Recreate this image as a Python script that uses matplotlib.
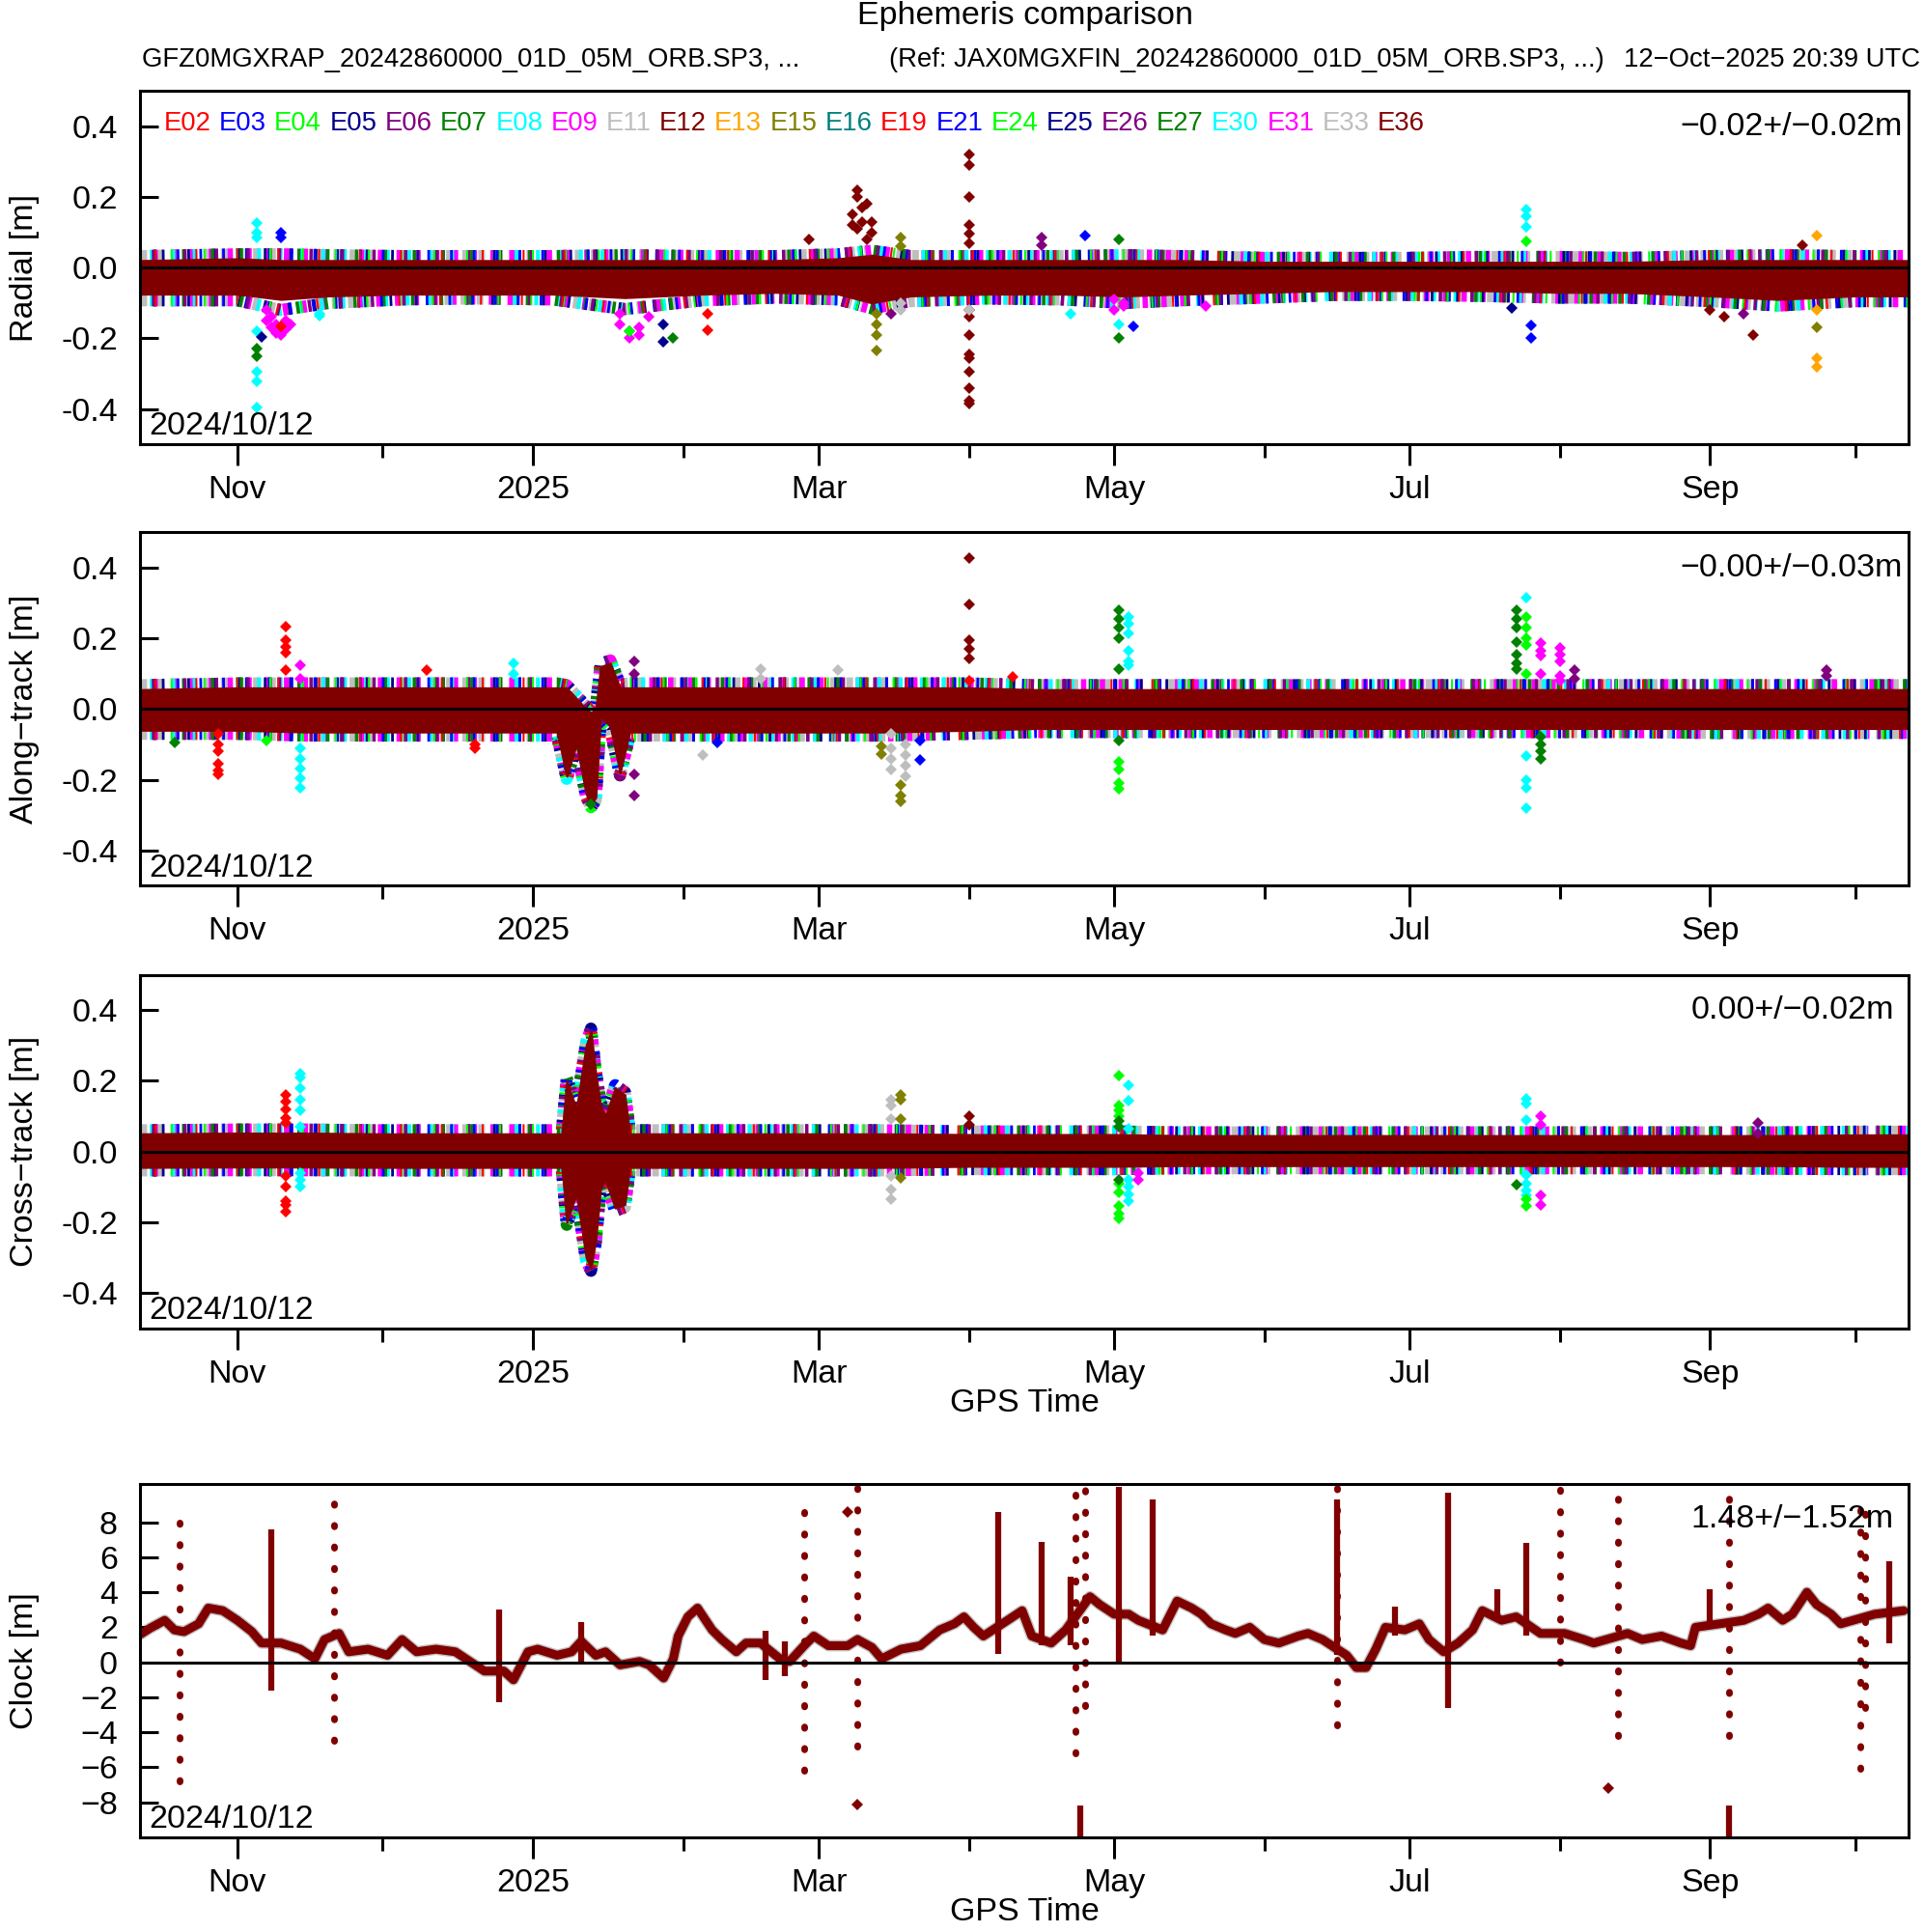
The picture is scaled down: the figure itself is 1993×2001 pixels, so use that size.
import matplotlib
matplotlib.use("Agg")
import matplotlib.pyplot as plt
import matplotlib.dates as mdates
import matplotlib.ticker as mticker
from matplotlib.offsetbox import TextArea, HPacker, AnchoredOffsetbox
import numpy as np
import pandas as pd

plt.rcParams['font.family'] = ['Liberation Sans', 'DejaVu Sans']
plt.rcParams['lines.scale_dashes'] = False

# satellites and their colours (R palette, cycled)
sats = ['E02', 'E03', 'E04', 'E05', 'E06', 'E07', 'E08', 'E09', 'E11', 'E12', 'E13', 'E15',
        'E16', 'E19', 'E21', 'E24', 'E25', 'E26', 'E27', 'E30', 'E31', 'E33', 'E36']
palette = ['#FF0000', '#0000FF', '#00FF00', '#00008B', '#800080', '#008000', '#00FFFF',
           '#FF00FF', '#BEBEBE', '#800000', '#FFA500', '#808000', '#008080']
MAROON = '#800000'
# fringe of the dense band: colour, dash on, dash off, dash offset (points)
fringe_styles = [('#BEBEBE', 5, 7, 0), ('#FF00FF', 4, 10, 5), ('#00FFFF', 3, 13, 9),
                 ('#00008B', 2, 17, 3), ('#008000', 2.5, 19, 12), ('#0000FF', 2, 15, 7),
                 ('#800080', 2.5, 21, 15), ('#00FF00', 1.5, 23, 2), ('#FF0000', 1.5, 29, 20)]

# ---- radial: dense band (core + coloured fringe) ----
rad_dates = ['2024-10-12', '2024-11-01', '2024-11-10', '2024-11-20', '2024-12-05', '2024-12-20',
             '2025-01-05', '2025-01-20', '2025-02-05', '2025-02-20', '2025-03-05', '2025-03-12',
             '2025-03-20', '2025-04-05', '2025-04-20', '2025-05-03', '2025-05-15', '2025-06-01',
             '2025-06-15', '2025-07-01', '2025-07-15', '2025-08-01', '2025-08-15', '2025-09-01',
             '2025-09-15', '2025-10-01', '2025-10-12']
rad_core_hi = [0.02, 0.025, 0.02, 0.02, 0.02, 0.02, 0.02, 0.02, 0.02, 0.02, 0.025, 0.035, 0.02, 0.02,
               0.02, 0.02, 0.02, 0.015, 0.015, 0.015, 0.015, 0.015, 0.015, 0.02, 0.02, 0.02, 0.02]
rad_core_lo = [-0.075, -0.075, -0.09, -0.08, -0.075, -0.075, -0.075, -0.085, -0.075, -0.07, -0.075,
               -0.1, -0.08, -0.075, -0.075, -0.08, -0.075, -0.07, -0.065, -0.065, -0.065, -0.07,
               -0.07, -0.08, -0.09, -0.08, -0.08]
rad_edge_hi = [0.045, 0.05, 0.055, 0.05, 0.045, 0.045, 0.045, 0.05, 0.045, 0.045, 0.05, 0.06, 0.045,
               0.045, 0.045, 0.05, 0.045, 0.04, 0.04, 0.04, 0.045, 0.045, 0.04, 0.045, 0.05, 0.045, 0.045]
rad_edge_lo = [-0.11, -0.11, -0.15, -0.12, -0.105, -0.1, -0.105, -0.15, -0.11, -0.1, -0.105, -0.13,
               -0.11, -0.1, -0.105, -0.12, -0.11, -0.1, -0.09, -0.09, -0.095, -0.1, -0.1, -0.11,
               -0.125, -0.11, -0.11]
# isolated points: (date, satellite, values)
rad_spikes = [
    ('2024-11-05', 'E08', [0.127, 0.10, 0.085, -0.18, -0.295, -0.323, -0.396]),
    ('2024-11-05', 'E07', [-0.23, -0.25]),
    ('2024-11-06', 'E05', [-0.195]),
    ('2024-11-10', 'E03', [0.10, 0.086]),
    ('2024-11-07', 'E09', [-0.12, -0.15]),
    ('2024-11-08', 'E09', [-0.17, -0.14]),
    ('2024-11-09', 'E09', [-0.185, -0.16]),
    ('2024-11-10', 'E09', [-0.19, -0.17]),
    ('2024-11-11', 'E09', [-0.175, -0.15]),
    ('2024-11-12', 'E09', [-0.16]),
    ('2024-11-10', 'E02', [-0.165]),
    ('2024-11-18', 'E08', [-0.13, -0.135]),
    ('2025-01-19', 'E09', [-0.13, -0.16]),
    ('2025-01-21', 'E09', [-0.18, -0.2]),
    ('2025-01-23', 'E09', [-0.17, -0.19]),
    ('2025-01-25', 'E09', [-0.14]),
    ('2025-01-21', 'E04', [-0.18]),
    ('2025-01-28', 'E05', [-0.21, -0.16]),
    ('2025-01-30', 'E07', [-0.2]),
    ('2025-02-06', 'E02', [-0.177, -0.13]),
    ('2025-02-27', 'E12', [0.08]),
    ('2025-03-08', 'E36', [0.12, 0.15]),
    ('2025-03-09', 'E36', [0.22, 0.2, 0.11]),
    ('2025-03-10', 'E36', [0.17, 0.13]),
    ('2025-03-11', 'E36', [0.18, 0.08]),
    ('2025-03-12', 'E36', [0.13, 0.1]),
    ('2025-03-13', 'E15', [-0.13, -0.16, -0.19, -0.235]),
    ('2025-03-18', 'E15', [0.086, 0.06]),
    ('2025-03-18', 'E11', [-0.1, -0.12]),
    ('2025-03-16', 'E06', [-0.13]),
    ('2025-04-01', 'E36', [0.32, 0.29, 0.2, 0.12, 0.095, 0.07, -0.12, -0.14, -0.19, -0.245,
                           -0.255, -0.295, -0.34, -0.377, -0.386]),
    ('2025-04-01', 'E11', [-0.12]),
    ('2025-04-16', 'E06', [0.086, 0.064]),
    ('2025-04-25', 'E03', [0.09]),
    ('2025-05-02', 'E07', [0.08, -0.2]),
    ('2025-05-01', 'E09', [-0.09, -0.12]),
    ('2025-05-03', 'E09', [-0.1, -0.11]),
    ('2025-05-02', 'E08', [-0.16]),
    ('2025-05-05', 'E03', [-0.165]),
    ('2025-04-22', 'E08', [-0.13]),
    ('2025-05-20', 'E09', [-0.11]),
    ('2025-07-25', 'E08', [0.164, 0.145, 0.114]),
    ('2025-07-25', 'E04', [0.073]),
    ('2025-07-26', 'E03', [-0.164, -0.2]),
    ('2025-07-22', 'E05', [-0.114]),
    ('2025-09-01', 'E36', [-0.12]),
    ('2025-09-04', 'E36', [-0.14]),
    ('2025-09-10', 'E36', [-0.19]),
    ('2025-09-08', 'E06', [-0.13]),
    ('2025-09-23', 'E13', [0.09, -0.12, -0.255, -0.28]),
    ('2025-09-23', 'E15', [-0.17]),
    ('2025-09-20', 'E36', [0.064]),
]

# ---- along-track ----
along_dates = ['2024-10-12', '2024-11-01', '2024-11-15', '2024-12-01', '2024-12-15', '2025-01-01',
               '2025-01-06', '2025-01-08', '2025-01-10', '2025-01-12', '2025-01-13', '2025-01-14',
               '2025-01-15', '2025-01-17', '2025-01-19', '2025-01-21', '2025-02-01', '2025-02-15',
               '2025-03-01', '2025-03-15', '2025-04-01', '2025-04-15', '2025-05-01', '2025-05-15',
               '2025-06-01', '2025-06-15', '2025-07-01', '2025-07-15', '2025-08-01', '2025-08-15',
               '2025-09-01', '2025-09-15', '2025-10-01', '2025-10-12']
along_core_hi = [0.055, 0.06, 0.06, 0.06, 0.06, 0.06, 0.06, 0.06, 0.03, 0.0, -0.01, 0.0, 0.12, 0.13,
                 0.06, 0.06, 0.06, 0.06, 0.06, 0.06, 0.06, 0.055, 0.055, 0.055, 0.055, 0.055, 0.055,
                 0.055, 0.055, 0.055, 0.055, 0.055, 0.055, 0.055]
along_core_lo = [-0.06, -0.06, -0.065, -0.065, -0.065, -0.065, -0.065, -0.19, -0.1, -0.24, -0.27,
                 -0.25, -0.02, -0.05, -0.18, -0.065, -0.065, -0.065, -0.065, -0.065, -0.06, -0.055,
                 -0.055, -0.055, -0.055, -0.055, -0.055, -0.055, -0.055, -0.055, -0.055, -0.055,
                 -0.055, -0.055]
along_edge_hi = [0.08, 0.085, 0.085, 0.085, 0.085, 0.085, 0.085, 0.075, 0.045, 0.015, 0.005, 0.015,
                 0.135, 0.145, 0.08, 0.085, 0.085, 0.085, 0.085, 0.085, 0.085, 0.08, 0.08, 0.08, 0.08,
                 0.08, 0.08, 0.08, 0.08, 0.08, 0.08, 0.08, 0.08, 0.08]
along_edge_lo = [-0.08, -0.08, -0.085, -0.085, -0.085, -0.085, -0.085, -0.205, -0.115, -0.255,
                 -0.285, -0.265, -0.035, -0.065, -0.195, -0.085, -0.085, -0.085, -0.085, -0.085,
                 -0.08, -0.075, -0.075, -0.075, -0.075, -0.075, -0.075, -0.075, -0.075, -0.075,
                 -0.08, -0.08, -0.08, -0.08]
along_spikes = [
    ('2024-10-28', 'E02', [-0.07, -0.1, -0.12, -0.155, -0.175, -0.185]),
    ('2024-11-11', 'E02', [0.232, 0.195, 0.177, 0.16, 0.11]),
    ('2024-11-14', 'E09', [0.123, 0.086]),
    ('2024-11-14', 'E08', [-0.11, -0.14, -0.168, -0.195, -0.223]),
    ('2024-11-07', 'E04', [-0.09]),
    ('2024-10-19', 'E07', [-0.095]),
    ('2024-12-10', 'E02', [0.11]),
    ('2024-12-28', 'E08', [0.13, 0.1]),
    ('2024-12-20', 'E02', [-0.11, -0.1]),
    ('2025-01-13', 'E07', [-0.27]),
    ('2025-01-22', 'E06', [0.135, 0.1, -0.186, -0.245]),
    ('2025-02-05', 'E11', [-0.13]),
    ('2025-02-08', 'E03', [-0.095]),
    ('2025-02-17', 'E11', [0.114, 0.086]),
    ('2025-03-05', 'E11', [0.11]),
    ('2025-03-14', 'E15', [-0.105, -0.127]),
    ('2025-03-16', 'E11', [-0.07, -0.11, -0.14, -0.17]),
    ('2025-03-19', 'E11', [-0.1, -0.13, -0.16, -0.19]),
    ('2025-03-18', 'E15', [-0.214, -0.245, -0.26]),
    ('2025-03-22', 'E03', [-0.09, -0.145]),
    ('2025-04-01', 'E36', [0.427, 0.297, 0.195, 0.17, 0.144]),
    ('2025-04-01', 'E02', [0.08]),
    ('2025-04-10', 'E02', [0.09]),
    ('2025-05-02', 'E07', [0.28, 0.255, 0.23, 0.2, 0.112, -0.09]),
    ('2025-05-02', 'E04', [-0.15, -0.17, -0.21, -0.227]),
    ('2025-05-04', 'E08', [0.26, 0.24, 0.214, 0.164, 0.136, 0.123]),
    ('2025-07-23', 'E07', [0.28, 0.255, 0.23, 0.19, 0.155, 0.13, 0.113]),
    ('2025-07-25', 'E04', [0.26, 0.23, 0.2, 0.18, 0.1]),
    ('2025-07-25', 'E08', [0.316, -0.132, -0.2, -0.223, -0.28]),
    ('2025-07-28', 'E09', [0.186, 0.165, 0.15, 0.1]),
    ('2025-07-28', 'E07', [-0.077, -0.1, -0.12, -0.14]),
    ('2025-08-01', 'E09', [0.173, 0.155, 0.136, 0.095, 0.08]),
    ('2025-08-04', 'E06', [0.11, 0.085]),
    ('2025-09-25', 'E06', [0.11, 0.095]),
]

# ---- cross-track ----
cross_dates = ['2024-10-12', '2024-11-01', '2024-11-15', '2024-12-01', '2024-12-15', '2025-01-01',
               '2025-01-07', '2025-01-08', '2025-01-10', '2025-01-12', '2025-01-13', '2025-01-14',
               '2025-01-15', '2025-01-16', '2025-01-18', '2025-01-20', '2025-01-21', '2025-02-01',
               '2025-02-15', '2025-03-01', '2025-03-15', '2025-04-01', '2025-04-15', '2025-05-01',
               '2025-05-15', '2025-06-01', '2025-06-15', '2025-07-01', '2025-07-15', '2025-08-01',
               '2025-08-15', '2025-09-01', '2025-09-15', '2025-10-01', '2025-10-12']
cross_core_hi = [0.05, 0.052, 0.052, 0.05, 0.05, 0.05, 0.05, 0.2, 0.12, 0.3, 0.34, 0.22, 0.13, 0.1,
                 0.18, 0.16, 0.05, 0.05, 0.05, 0.05, 0.05, 0.048, 0.048, 0.048, 0.045, 0.045, 0.045,
                 0.045, 0.045, 0.045, 0.045, 0.045, 0.045, 0.047, 0.047]
cross_core_lo = [-0.045, -0.044, -0.044, -0.045, -0.045, -0.045, -0.045, -0.2, -0.12, -0.3, -0.33,
                 -0.25, -0.1, -0.08, -0.16, -0.15, -0.045, -0.045, -0.045, -0.045, -0.045, -0.042,
                 -0.042, -0.042, -0.04, -0.04, -0.04, -0.04, -0.04, -0.04, -0.04, -0.04, -0.04,
                 -0.042, -0.042]
cross_edge_hi = [0.07, 0.072, 0.072, 0.07, 0.07, 0.07, 0.07, 0.215, 0.135, 0.315, 0.355, 0.235,
                 0.145, 0.115, 0.195, 0.175, 0.07, 0.07, 0.07, 0.07, 0.07, 0.065, 0.065, 0.065, 0.063,
                 0.063, 0.063, 0.063, 0.063, 0.063, 0.063, 0.063, 0.063, 0.065, 0.065]
cross_edge_lo = [-0.062, -0.062, -0.062, -0.062, -0.062, -0.062, -0.062, -0.215, -0.135, -0.315,
                 -0.345, -0.265, -0.115, -0.095, -0.175, -0.165, -0.062, -0.062, -0.062, -0.062,
                 -0.062, -0.058, -0.058, -0.058, -0.055, -0.055, -0.055, -0.055, -0.055, -0.055,
                 -0.055, -0.055, -0.058, -0.058, -0.058]
cross_spikes = [
    ('2024-11-11', 'E02', [0.16, 0.14, 0.12, 0.095, 0.08, -0.07, -0.1, -0.14, -0.15, -0.17]),
    ('2024-11-14', 'E08', [0.22, 0.21, 0.18, 0.147, 0.115, 0.07, -0.06, -0.08, -0.1]),
    ('2025-03-16', 'E11', [0.147, 0.13, 0.093, -0.07, -0.107, -0.134]),
    ('2025-03-18', 'E15', [0.16, 0.147, 0.093, -0.075]),
    ('2025-04-01', 'E36', [0.1, 0.075]),
    ('2025-05-02', 'E04', [0.215, 0.13, 0.115, 0.1, -0.09, -0.116, -0.153, -0.175, -0.19]),
    ('2025-05-02', 'E07', [0.085, 0.07, -0.08]),
    ('2025-05-04', 'E08', [0.188, 0.143, 0.065, -0.08, -0.1, -0.12, -0.14]),
    ('2025-05-06', 'E09', [-0.08, -0.06]),
    ('2025-07-25', 'E08', [0.15, 0.135, 0.088, -0.066, -0.09, -0.11, -0.125]),
    ('2025-07-25', 'E04', [-0.153, -0.135]),
    ('2025-07-23', 'E07', [-0.094]),
    ('2025-07-28', 'E09', [0.1, 0.075, -0.125, -0.15]),
    ('2025-09-11', 'E06', [0.08, 0.05]),
]

# ---- clock ----
clk_dates = ['2024-10-12', '2024-10-14', '2024-10-17', '2024-10-19', '2024-10-21', '2024-10-24',
             '2024-10-26', '2024-10-29', '2024-11-01', '2024-11-04', '2024-11-06', '2024-11-10',
             '2024-11-14', '2024-11-17', '2024-11-19', '2024-11-22', '2024-11-24', '2024-11-28',
             '2024-12-02', '2024-12-05', '2024-12-08', '2024-12-12', '2024-12-16', '2024-12-19',
             '2024-12-22', '2024-12-26', '2024-12-28', '2024-12-31', '2025-01-02', '2025-01-06',
             '2025-01-09', '2025-01-11', '2025-01-14', '2025-01-16', '2025-01-19', '2025-01-23',
             '2025-01-25', '2025-01-28', '2025-01-30', '2025-01-31', '2025-02-02', '2025-02-04',
             '2025-02-07', '2025-02-09', '2025-02-12', '2025-02-14', '2025-02-17', '2025-02-21',
             '2025-02-23', '2025-02-26', '2025-02-28', '2025-03-03', '2025-03-07', '2025-03-09',
             '2025-03-12', '2025-03-14', '2025-03-18', '2025-03-22', '2025-03-26', '2025-03-29',
             '2025-03-31', '2025-04-02', '2025-04-04', '2025-04-09', '2025-04-12', '2025-04-14',
             '2025-04-18', '2025-04-21', '2025-04-26', '2025-04-28', '2025-05-01', '2025-05-04',
             '2025-05-06', '2025-05-11', '2025-05-14', '2025-05-17', '2025-05-19', '2025-05-21',
             '2025-05-24', '2025-05-26', '2025-05-29', '2025-06-01', '2025-06-04', '2025-06-08',
             '2025-06-10', '2025-06-13', '2025-06-18', '2025-06-20', '2025-06-22', '2025-06-24',
             '2025-06-26', '2025-06-30', '2025-07-03', '2025-07-05', '2025-07-08', '2025-07-11',
             '2025-07-14', '2025-07-16', '2025-07-20', '2025-07-23', '2025-07-28', '2025-08-02',
             '2025-08-06', '2025-08-08', '2025-08-15', '2025-08-18', '2025-08-22', '2025-08-26',
             '2025-08-28', '2025-08-29', '2025-09-03', '2025-09-08', '2025-09-11', '2025-09-13',
             '2025-09-16', '2025-09-18', '2025-09-21', '2025-09-23', '2025-09-26', '2025-09-28',
             '2025-10-05', '2025-10-11']
clk_vals = [1.6, 1.95, 2.4, 1.85, 1.75, 2.2, 3.1, 2.95, 2.4, 1.75,
            1.1, 1.1, 0.75, 0.2, 1.3, 1.65, 0.6, 0.75, 0.4, 1.3,
            0.6, 0.75, 0.6, 0.05, -0.5, -0.5, -1.0, 0.6, 0.75, 0.4,
            0.6, 1.2, 0.4, 0.6, -0.15, 0.05, -0.15, -0.9, 0.2, 1.5,
            2.6, 3.1, 1.85, 1.3, 0.6, 1.1, 1.1, 0.2, 0.05, 0.95,
            1.5, 0.95, 0.95, 1.3, 0.85, 0.2, 0.75, 0.95, 1.85, 2.2,
            2.6, 2.0, 1.5, 2.4, 2.95, 1.5, 1.1, 1.85, 3.75, 3.3,
            2.75, 2.75, 2.4, 1.85, 3.5, 3.1, 2.75, 2.2, 1.85, 1.65,
            2.0, 1.3, 1.1, 1.5, 1.65, 1.3, 0.4, -0.3, -0.3, 0.75,
            2.0, 1.85, 2.2, 1.3, 0.6, 1.1, 1.85, 2.95, 2.4, 2.6,
            1.65, 1.65, 1.3, 1.1, 1.65, 1.3, 1.5, 1.1, 0.95, 2.0,
            2.2, 2.4, 2.75, 3.1, 2.4, 2.75, 4.0, 3.3, 2.75, 2.2,
            2.75, 2.95]
# dense excursions (date, low, high)
clk_solid = [('2024-11-08', -1.6, 7.6), ('2024-12-25', -2.3, 3.0), ('2025-01-11', 0.0, 2.3),
             ('2025-02-18', -1.0, 1.8), ('2025-02-22', -0.8, 1.2), ('2025-04-07', 0.5, 8.6),
             ('2025-04-16', 1.0, 6.9), ('2025-04-22', 1.0, 4.9), ('2025-05-02', 0.0, 10.0),
             ('2025-05-09', 1.5, 9.3), ('2025-06-16', 0.4, 9.3), ('2025-06-28', 1.5, 3.2),
             ('2025-07-09', -2.6, 9.7), ('2025-07-19', 2.4, 4.2), ('2025-07-25', 1.5, 6.8),
             ('2025-09-01', 2.0, 4.2), ('2025-10-08', 1.1, 5.8), ('2025-04-24', -10.0, -8.2),
             ('2025-09-05', -10.0, -8.2)]
# sparse (dotted) excursions (date, low, high)
clk_dotted = [('2024-10-20', -6.8, 8.9), ('2024-11-21', -4.5, 9.3), ('2025-02-26', -6.2, 9.7),
              ('2025-03-09', -4.8, 10.0), ('2025-04-23', -5.2, 10.0), ('2025-04-25', -2.5, 10.0),
              ('2025-06-16', -3.6, 10.0), ('2025-08-01', 0.0, 10.0), ('2025-08-13', -4.2, 9.8),
              ('2025-09-05', -4.2, 9.6), ('2025-10-02', -6.1, 9.5), ('2025-10-03', -2.6, 9.3)]
clk_points = [('2025-03-09', -8.1), ('2025-08-11', -7.2), ('2025-03-07', 8.6)]

stats_text = ['\u22120.02+/\u22120.02m', '\u22120.00+/\u22120.03m', '0.00+/\u22120.02m', '1.48+/\u22121.52m']
ylabels = ['Radial [m]', 'Along\u2212track [m]', 'Cross\u2212track [m]', 'Clock [m]']
start_label = '2024/10/12'
x_start, x_end = '2024-10-12', '2025-10-12'

sat_color = {s: palette[i % len(palette)] for i, s in enumerate(sats)}
FS = 24.5
FS_SMALL = 19.8

fig = plt.figure(figsize=(19.93, 20.01), dpi=100)
left, width = 0.073, 0.919
bottoms = [0.770, 0.5415, 0.3125, 0.049]
height = 0.183
axes = [fig.add_axes([left, b, width, height]) for b in bottoms]


def to_dt(lst):
    return pd.to_datetime(lst)


def fringe(ax, d, y):
    # speckled strip of satellite colours along the band edge
    for c, on, off, offs in fringe_styles:
        ax.plot(d, y, color=c, lw=9, ls=(offs, (on, off)), dash_capstyle='butt', zorder=1)


def draw_band(ax, dates, core_lo, core_hi, edge_lo, edge_hi):
    d = to_dt(dates)
    lo_mid = (np.array(core_lo) + np.array(edge_lo)) / 2
    hi_mid = (np.array(core_hi) + np.array(edge_hi)) / 2
    fringe(ax, d, lo_mid)
    fringe(ax, d, hi_mid)
    ax.fill_between(d, core_lo, core_hi, facecolor=MAROON, edgecolor=MAROON, lw=1.5, zorder=2)


def draw_spikes(ax, spikes):
    for date, sat, vals in spikes:
        ax.plot([pd.Timestamp(date)] * len(vals), vals, ls='none', marker='D', ms=6.5,
                mew=0, color=sat_color[sat], zorder=3)


def style_axis(ax):
    for sp in ax.spines.values():
        sp.set_linewidth(2.2)
    ax.set_xlim(pd.Timestamp(x_start), pd.Timestamp(x_end))
    ax.xaxis.set_major_locator(mdates.MonthLocator(bymonth=[1, 3, 5, 7, 9, 11]))
    ax.xaxis.set_minor_locator(mdates.MonthLocator(bymonth=[2, 4, 6, 8, 10, 12]))
    ax.xaxis.set_major_formatter(mticker.FuncFormatter(
        lambda v, p: (mdates.num2date(v).strftime('%Y') if mdates.num2date(v).month == 1
                      else mdates.num2date(v).strftime('%b'))))
    ax.tick_params(axis='x', which='major', direction='out', length=16, width=2.2, pad=7,
                   labelsize=FS)
    ax.tick_params(axis='x', which='minor', direction='out', length=10, width=2.2)
    ax.tick_params(axis='y', direction='in', length=14, width=2.2, pad=17, labelsize=FS)
    ax.axhline(0, color='black', lw=2.2, zorder=4)
    ax.text(0.005, 0.05, start_label, transform=ax.transAxes, fontsize=FS, ha='left',
            va='center', zorder=5)


panels = [
    (rad_dates, rad_core_lo, rad_core_hi, rad_edge_lo, rad_edge_hi, rad_spikes),
    (along_dates, along_core_lo, along_core_hi, along_edge_lo, along_edge_hi, along_spikes),
    (cross_dates, cross_core_lo, cross_core_hi, cross_edge_lo, cross_edge_hi, cross_spikes),
]
stats_x = [0.9965, 0.9965, 0.9916, 0.9916]

for i, (dts, clo, chi, elo, ehi, spk) in enumerate(panels):
    ax = axes[i]
    draw_band(ax, dts, clo, chi, elo, ehi)
    draw_spikes(ax, spk)
    ax.set_ylim(-0.5, 0.5)
    ax.yaxis.set_major_locator(mticker.FixedLocator([-0.4, -0.2, 0.0, 0.2, 0.4]))
    ax.yaxis.set_major_formatter(mticker.FormatStrFormatter('%.1f'))
    style_axis(ax)

# clock panel
ax = axes[3]
cd = to_dt(clk_dates)
ax.plot(cd, clk_vals, color='#C0C0C0', lw=8.5, solid_capstyle='round', zorder=1)
ax.plot(cd, clk_vals, color=MAROON, lw=6.5, solid_capstyle='round', zorder=2)
ax.vlines(to_dt([s[0] for s in clk_dotted]), [s[1] for s in clk_dotted], [s[2] for s in clk_dotted],
          colors=MAROON, lw=5, linestyles=(0, (1.0, 15.0)), capstyle='round', zorder=2)
ax.vlines(to_dt([s[0] for s in clk_solid]), [s[1] for s in clk_solid], [s[2] for s in clk_solid],
          colors=MAROON, lw=4.5, zorder=2)
ax.plot(to_dt([p[0] for p in clk_points]), [p[1] for p in clk_points], ls='none', marker='D',
        ms=6.5, mew=0, color=MAROON, zorder=3)
ax.set_ylim(-10.0, 10.2)
ax.yaxis.set_major_locator(mticker.FixedLocator([-8, -6, -4, -2, 0, 2, 4, 6, 8]))
style_axis(ax)

for i, ax in enumerate(axes):
    ax.text(stats_x[i], 0.899, stats_text[i], transform=ax.transAxes, fontsize=FS,
            ha='right', va='center', zorder=6)
    pos = ax.get_position()
    fig.text(0.0128, pos.y0 + pos.height / 2, ylabels[i], rotation=90, fontsize=FS,
             ha='center', va='center')

for ax in axes[2:]:
    ax.text(0.5, -0.212, 'GPS Time', transform=ax.transAxes, fontsize=FS, ha='center',
            va='center')

# coloured satellite legend
boxes = [TextArea(s, textprops=dict(color=sat_color[s], fontsize=FS_SMALL)) for s in sats]
pack = HPacker(children=boxes, align='baseline', pad=0, sep=6.0)
anch = AnchoredOffsetbox(loc='center left', child=pack, pad=0, borderpad=0, frameon=False,
                         bbox_to_anchor=(0.0132, 0.906), bbox_transform=axes[0].transAxes)
axes[0].add_artist(anch)

# header
fig.text(0.533, 0.992, 'Ephemeris comparison', fontsize=FS, ha='center', va='center')
fig.text(0.0736, 0.969, 'GFZ0MGXRAP_20242860000_01D_05M_ORB.SP3, ...', fontsize=FS_SMALL,
         ha='left', va='center')
fig.text(0.462, 0.969, '(Ref: JAX0MGXFIN_20242860000_01D_05M_ORB.SP3, ...)', fontsize=FS_SMALL,
         ha='left', va='center')
fig.text(0.998, 0.969, '12\u2212Oct\u22122025 20:39 UTC', fontsize=FS_SMALL, ha='right',
         va='center')

fig.savefig('out.png', dpi=100)
